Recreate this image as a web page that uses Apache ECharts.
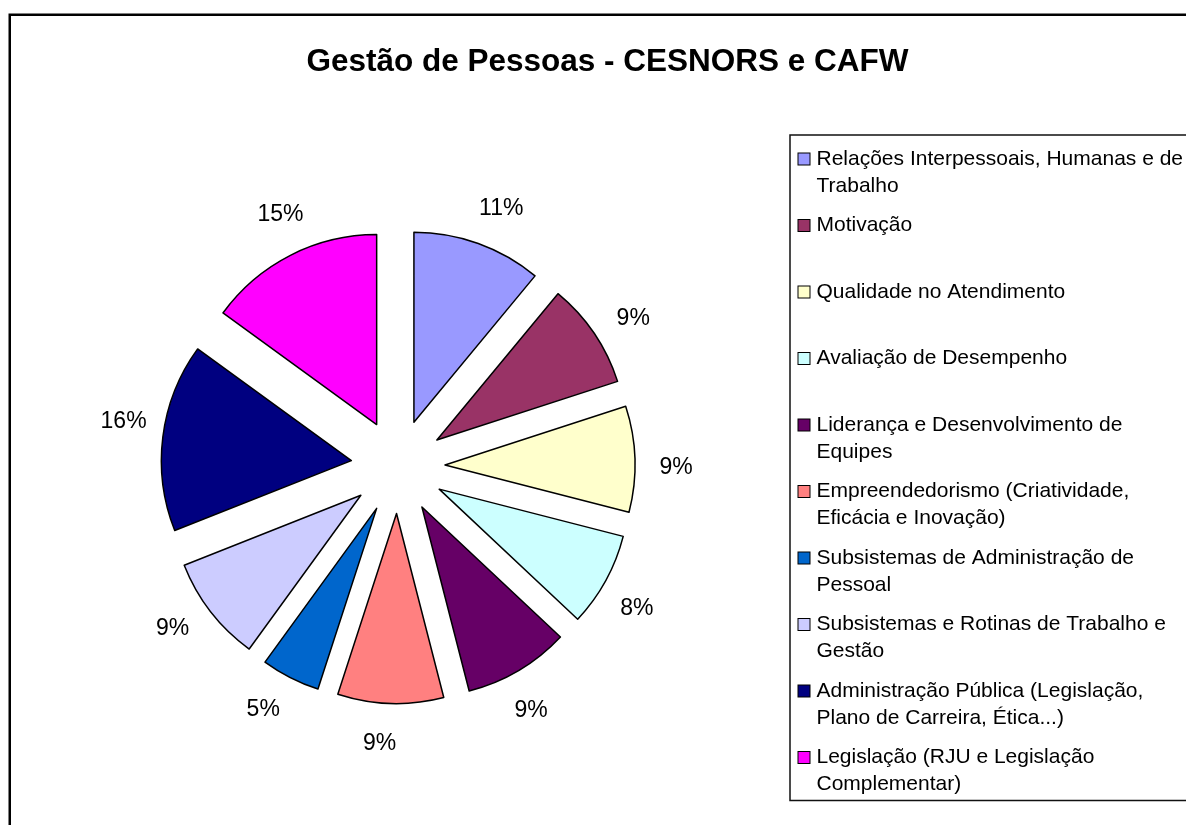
<!DOCTYPE html>
<html>
<head>
<meta charset="utf-8">
<title>Gestão de Pessoas - CESNORS e CAFW</title>
<script src="https://cdn.jsdelivr.net/npm/echarts@6/dist/echarts.min.js"></script>
<style>
    html, body { margin: 0; padding: 0; background: #fff; }
    #chart { width: 1186px; height: 825px; }
</style>
</head>
<body>
<div id="chart"></div>
<script>
// categorias (ordem do gráfico, a partir das 12h no sentido horário)
var categorias = [
    'Relações Interpessoais, Humanas e de Trabalho',
    'Motivação',
    'Qualidade no Atendimento',
    'Avaliação de Desempenho',
    'Liderança e Desenvolvimento de Equipes',
    'Empreendedorismo (Criatividade, Eficácia e Inovação)',
    'Subsistemas de Administração de Pessoal',
    'Subsistemas e Rotinas de Trabalho e Gestão',
    'Administração Pública (Legislação, Plano de Carreira, Ética...)',
    'Legislação (RJU e Legislação Complementar)'
];
// percentuais
var percentuais = [11, 9, 9, 8, 9, 9, 5, 9, 16, 15];
// quebras de linha da legenda
var linhasLegenda = [
    ['Relações Interpessoais, Humanas e de', 'Trabalho'],
    ['Motivação'],
    ['Qualidade no Atendimento'],
    ['Avaliação de Desempenho'],
    ['Liderança e Desenvolvimento de', 'Equipes'],
    ['Empreendedorismo (Criatividade,', 'Eficácia e Inovação)'],
    ['Subsistemas de Administração de', 'Pessoal'],
    ['Subsistemas e Rotinas de Trabalho e', 'Gestão'],
    ['Administração Pública (Legislação,', 'Plano de Carreira, Ética...)'],
    ['Legislação (RJU e Legislação', 'Complementar)']
];
var cores = ['#9999FF', '#993366', '#FFFFCC', '#CCFFFF', '#660066',
             '#FF8080', '#0066CC', '#CCCCFF', '#000080', '#FF00FF'];

var fonte = '"Liberation Sans", Arial, sans-serif';

function montaGrafico() {
    var chart = echarts.init(document.getElementById('chart'));

    var fatias = [];
    var rotulos = [];
    for (var i = 0; i < categorias.length; i++) {
        fatias.push({
            name: categorias[i],
            value: percentuais[i],
            selected: true,
            itemStyle: { color: cores[i] }
        });
        rotulos.push({ name: categorias[i], value: percentuais[i] });
    }

    // quadradinhos coloridos da legenda via rich text
    var rich = {
        t: { fontSize: 21, lineHeight: 27, color: '#000', fontFamily: fonte },
        s: { width: 7 },
        ind: { width: 18 }
    };
    for (var k = 0; k < cores.length; k++) {
        rich['b' + k] = {
            width: 11, height: 11,
            backgroundColor: cores[k],
            borderColor: '#000', borderWidth: 1,
            verticalAlign: 'middle'
        };
    }

    var option = {
        backgroundColor: '#fff',
        animation: false,
        title: {
            text: 'Gestão de Pessoas - CESNORS e CAFW',
            left: 607.5,
            textAlign: 'center',
            top: 44,
            padding: 0,
            textStyle: {
                fontSize: 31.5,
                fontWeight: 'bold',
                color: '#000',
                fontFamily: fonte,
                lineHeight: 36
            }
        },
        legend: {
            orient: 'vertical',
            left: 790,
            top: 135,
            padding: [13.5, 80, 5.5, 3.5],
            itemGap: 18.5,
            itemWidth: 0,
            icon: 'none',
            selectedMode: false,
            borderColor: '#111',
            borderWidth: 1.5,
            data: categorias,
            formatter: function (name) {
                var idx = categorias.indexOf(name);
                var l = linhasLegenda[idx];
                return '{b' + idx + '|}{s|}{t|' + l[0] + '}\n{ind|}{t|' + (l[1] || ' ') + '}';
            },
            textStyle: { rich: rich }
        },
        graphic: [{
            type: 'rect',
            shape: { x: 9.75, y: 14.75, width: 1300, height: 900 },
            style: { fill: 'none', stroke: '#000', lineWidth: 2.5 },
            silent: true
        }],
        series: [
            {
                name: 'Gestão de Pessoas',
                type: 'pie',
                center: [398, 466.5],
                radius: 190,
                startAngle: 90,
                clockwise: true,
                selectedMode: 'multiple',
                selectedOffset: 47,
                avoidLabelOverlap: false,
                label: { show: false },
                labelLine: { show: false },
                itemStyle: { borderColor: '#000', borderWidth: 1.5 },
                select: { itemStyle: { borderColor: '#000', borderWidth: 1.5 } },
                emphasis: { disabled: true },
                data: fatias
            },
            {
                // série invisível só para os rótulos de percentual
                name: 'rotulos',
                type: 'pie',
                center: [398, 466.5],
                radius: [265, 285],
                startAngle: 88,
                clockwise: true,
                silent: true,
                selectedMode: false,
                avoidLabelOverlap: false,
                itemStyle: { color: 'rgba(0,0,0,0)', borderWidth: 0 },
                label: {
                    show: true,
                    position: 'inside',
                    formatter: '{c}%',
                    fontSize: 23,
                    color: '#000',
                    fontFamily: fonte,
                    textBorderWidth: 0
                },
                labelLine: { show: false },
                emphasis: { disabled: true },
                data: rotulos
            }
        ]
    };
    chart.setOption(option);
}

montaGrafico();
</script>
</body>
</html>
